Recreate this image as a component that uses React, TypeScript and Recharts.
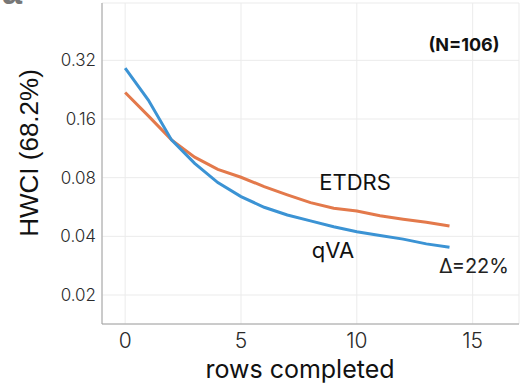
import { LineChart, Line, XAxis, YAxis, CartesianGrid } from "recharts"

// rows completed
const rows = [0, 1, 2, 3, 4, 5, 6, 7, 8, 9, 10, 11, 12, 13, 14]
// HWCI (68.2%) per method
const qvaValues = [0.292, 0.2, 0.125, 0.0947, 0.0755, 0.064, 0.0564, 0.0515, 0.048, 0.0448, 0.0422, 0.0404, 0.0387, 0.0366, 0.0352]
const etdrsValues = [0.219, 0.166, 0.125, 0.102, 0.0883, 0.0804, 0.072, 0.0653, 0.0596, 0.0558, 0.054, 0.051, 0.049, 0.0473, 0.0452]

const xTicks = [0, 5, 10, 15]
const yTicks = [0.02, 0.04, 0.08, 0.16, 0.32]

const BLUE = "#3b93d4"
const ORANGE = "#e3794b"
const TICK_FONT = "Inter, 'Noto Sans', sans-serif"

const data = rows.map((r, i) => ({ row: r, qva: qvaValues[i], etdrs: etdrsValues[i] }))

export default function App() {
  return (
    <div style={{ position: "absolute", left: 0, top: 0, width: 520, height: 389, background: "#fff" }}>
      <LineChart width={520} height={389} data={data} margin={{ top: 3, right: 1, bottom: 35, left: 0 }}>
        <CartesianGrid stroke="#ebebeb" strokeWidth={1} />
        <XAxis
          dataKey="row"
          type="number"
          domain={[-1, 17]}
          ticks={xTicks}
          allowDataOverflow
          height={30}
          stroke="#a0a0a0"
          tickLine={false}
          tickSize={0}
          tickMargin={9}
          tick={{ fontSize: 21, fill: "#2a2a2a", fontFamily: TICK_FONT, fontWeight: 300 }}
        />
        <YAxis
          type="number"
          scale="log"
          domain={[0.0142, 0.63]}
          ticks={yTicks}
          allowDataOverflow
          width={102}
          stroke="#a0a0a0"
          tickLine={false}
          tickSize={0}
          tickMargin={6}
          tickFormatter={(v: number) => v.toFixed(2)}
          tick={{ fontSize: 17, fill: "#2a2a2a", fontFamily: TICK_FONT, fontWeight: 300 }}
        />
        <Line dataKey="etdrs" stroke={ORANGE} strokeWidth={3} dot={false} isAnimationActive={false} type="linear" />
        <Line dataKey="qva" stroke={BLUE} strokeWidth={3} dot={false} isAnimationActive={false} type="linear" />
        <text x={2} y={4} fontSize={36} fontWeight={700} fill="#777" fontFamily="'Liberation Sans', Arial, sans-serif">a</text>
        <text
          x={0}
          y={0}
          transform="translate(38,153) rotate(-90)"
          textAnchor="middle"
          fontSize={26}
          fill="#111"
          fontFamily="'Liberation Sans', Arial, sans-serif"
        >
          HWCI (68.2%)
        </text>
        <text x={300} y={378} textAnchor="middle" fontSize={25} fill="#111" fontFamily={TICK_FONT}>rows completed</text>
        <text x={464} y={51} textAnchor="middle" fontSize={18} fontWeight={700} fill="#111" fontFamily={TICK_FONT}>(N=106)</text>
        <text x={355} y={190} textAnchor="middle" fontSize={22} fill="#111" fontFamily={TICK_FONT}>ETDRS</text>
        <text x={333} y={258} textAnchor="middle" fontSize={22} fill="#111" fontFamily={TICK_FONT}>qVA</text>
        <text x={474} y={273} textAnchor="middle" fontSize={20} fill="#222" fontFamily={TICK_FONT}>Δ=22%</text>
      </LineChart>
    </div>
  )
}
